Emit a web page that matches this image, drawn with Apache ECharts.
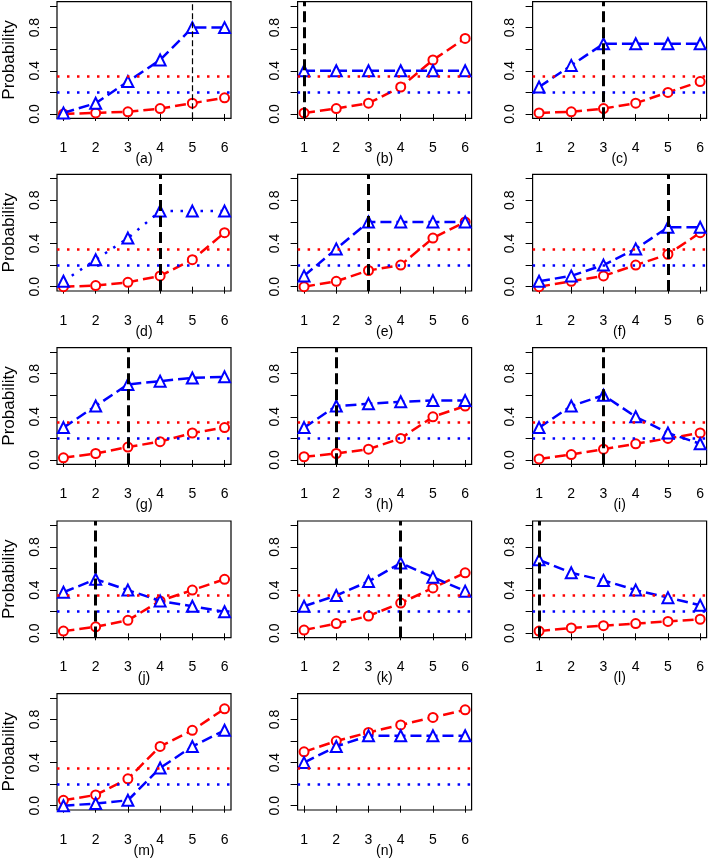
<!DOCTYPE html>
<html>
<head>
<meta charset="utf-8">
<script src="https://cdn.jsdelivr.net/npm/echarts@6/dist/echarts.min.js"></script>
<style>html,body{margin:0;padding:0;background:#fff;}#chart{width:709px;height:859px;}</style>
</head>
<body>
<div id="chart"></div>
<script>
const doses = [1, 2, 3, 4, 5, 6];
const panelLabels = ['(a)','(b)','(c)','(d)','(e)','(f)','(g)','(h)','(i)','(j)','(k)','(l)','(m)','(n)'];
const mtdDose = [5, 1, 3, 4, 3, 5, 3, 2, 3, 2, 4, 1, null, null];
const redThreshold = 0.35;
const blueThreshold = 0.2;
const yTickValues = [0, 0.2, 0.4, 0.6, 0.8, 1.0];
const yLabelValues = [0, 0.4, 0.8];

const redA = [0.00, 0.01, 0.02, 0.05, 0.10, 0.15];
const blueA = [0.01, 0.10, 0.30, 0.50, 0.80, 0.80];
const redB = [0.01, 0.05, 0.10, 0.25, 0.50, 0.70];
const blueB = [0.40, 0.40, 0.40, 0.40, 0.40, 0.40];
const redC = [0.01, 0.02, 0.05, 0.10, 0.20, 0.30];
const blueC = [0.25, 0.45, 0.65, 0.65, 0.65, 0.65];
const redD = [0.00, 0.01, 0.04, 0.10, 0.25, 0.50];
const blueD = [0.05, 0.25, 0.45, 0.70, 0.70, 0.70];
const redE = [0.00, 0.05, 0.15, 0.20, 0.45, 0.60];
const blueE = [0.10, 0.35, 0.60, 0.60, 0.60, 0.60];
const redF = [0.00, 0.05, 0.10, 0.20, 0.30, 0.50];
const blueF = [0.05, 0.10, 0.20, 0.35, 0.55, 0.55];
const redG = [0.02, 0.06, 0.12, 0.17, 0.25, 0.30];
const blueG = [0.30, 0.50, 0.70, 0.73, 0.76, 0.77];
const redH = [0.03, 0.06, 0.10, 0.20, 0.40, 0.50];
const blueH = [0.30, 0.50, 0.52, 0.54, 0.55, 0.55];
const redI = [0.01, 0.05, 0.10, 0.15, 0.20, 0.25];
const blueI = [0.30, 0.50, 0.60, 0.40, 0.25, 0.15];
const redJ = [0.02, 0.06, 0.12, 0.30, 0.40, 0.50];
const blueJ = [0.38, 0.50, 0.40, 0.30, 0.25, 0.20];
const redK = [0.03, 0.09, 0.16, 0.28, 0.42, 0.56];
const blueK = [0.25, 0.35, 0.48, 0.65, 0.52, 0.39];
const redL = [0.02, 0.05, 0.07, 0.09, 0.11, 0.13];
const blueL = [0.68, 0.56, 0.49, 0.40, 0.33, 0.26];
const redM = [0.05, 0.10, 0.25, 0.55, 0.70, 0.90];
const blueM = [0.00, 0.02, 0.05, 0.35, 0.55, 0.70];
const redN = [0.50, 0.60, 0.68, 0.75, 0.82, 0.89];
const blueN = [0.40, 0.55, 0.65, 0.65, 0.65, 0.65];

const redSeriesList = [redA, redB, redC, redD, redE, redF, redG, redH, redI, redJ, redK, redL, redM, redN];
const blueSeriesList = [blueA, blueB, blueC, blueD, blueE, blueF, blueG, blueH, blueI, blueJ, blueK, blueL, blueM, blueN];

const RED = '#FF0000', BLUE = '#0000FF';
const FONT = 'Liberation Sans, Arial, Helvetica, sans-serif';
const colLeft = [57, 297.6, 532.6];
const rowTop = [1.7, 174.4, 347.7, 521, 693.7];
const boxW = 174, boxH = 116.6;

const grids = [], xAxes = [], yAxes = [], series = [];
panelLabels.forEach((lab, i) => {
  const r = Math.floor(i / 3), c = i % 3;
  grids.push({left: colLeft[c], top: rowTop[r], width: boxW, height: boxH,
    show: true, borderColor: '#000', borderWidth: 1.2, backgroundColor: 'transparent', containLabel: false});
  xAxes.push({type: 'value', gridIndex: i, min: 0.8, max: 6.2,
    name: lab, nameLocation: 'middle', nameGap: 34, nameMoveOverlap: false,
    nameTextStyle: {fontFamily: FONT, fontSize: 14, color: '#000'},
    axisLine: {show: false}, splitLine: {show: false},
    axisTick: {show: true, inside: false, length: 7, customValues: doses, lineStyle: {color: '#000', width: 1}},
    axisLabel: {show: true, customValues: doses, margin: 23, fontFamily: FONT, fontSize: 14, color: '#000'}});
  yAxes.push({type: 'value', gridIndex: i, min: -0.04, max: 1.04,
    name: c === 0 ? 'Probability' : '', nameLocation: 'middle', nameGap: 39, nameRotate: 90, nameMoveOverlap: false,
    nameTextStyle: {fontFamily: FONT, fontSize: 17, color: '#000'},
    axisLine: {show: false}, splitLine: {show: false},
    axisTick: {show: true, inside: false, length: 7, customValues: yTickValues, lineStyle: {color: '#000', width: 1}},
    axisLabel: {show: true, customValues: yLabelValues, rotate: 90, align: 'center', verticalAlign: 'bottom', margin: 15,
      fontFamily: FONT, fontSize: 14, color: '#000', formatter: v => Number(v).toFixed(1)}});

  const blueLineType = lab === '(d)' ? [2.5, 7.5] : [11, 5];
  const blueMark = [{yAxis: blueThreshold, lineStyle: {color: BLUE, width: 2.5, type: [2.5, 7.5]}}];
  if (mtdDose[i] !== null) {
    const thin = lab === '(a)';
    blueMark.push({xAxis: mtdDose[i], lineStyle: {color: '#000', width: thin ? 1.2 : 3, type: thin ? [6, 3] : [11, 5]}});
  }
  series.push({type: 'line', xAxisIndex: i, yAxisIndex: i, name: 'red' + i,
    data: doses.map((d, k) => [d, redSeriesList[i][k]]),
    symbol: 'emptyCircle', symbolSize: 9, showSymbol: true,
    lineStyle: {color: RED, width: 2.5, type: [11, 5]},
    itemStyle: {color: RED, borderColor: RED, borderWidth: 2},
    markLine: {silent: true, symbol: 'none', label: {show: false}, animation: false,
      data: [{yAxis: redThreshold, lineStyle: {color: RED, width: 2.5, type: [2.5, 7.5]}}]},
    z: 3});
  series.push({type: 'line', xAxisIndex: i, yAxisIndex: i, name: 'blue' + i,
    data: doses.map((d, k) => [d, blueSeriesList[i][k]]),
    symbol: 'emptyTriangle', symbolSize: 11, showSymbol: true,
    lineStyle: {color: BLUE, width: 2.5, type: blueLineType},
    itemStyle: {color: BLUE, borderColor: BLUE, borderWidth: 2},
    markLine: {silent: true, symbol: 'none', label: {show: false}, animation: false, data: blueMark},
    z: 4});
});

const chart = echarts.init(document.getElementById('chart'), null, {renderer: 'canvas'});
chart.setOption({animation: false, backgroundColor: '#fff', grid: grids, xAxis: xAxes, yAxis: yAxes, series: series});
</script>
</body>
</html>
